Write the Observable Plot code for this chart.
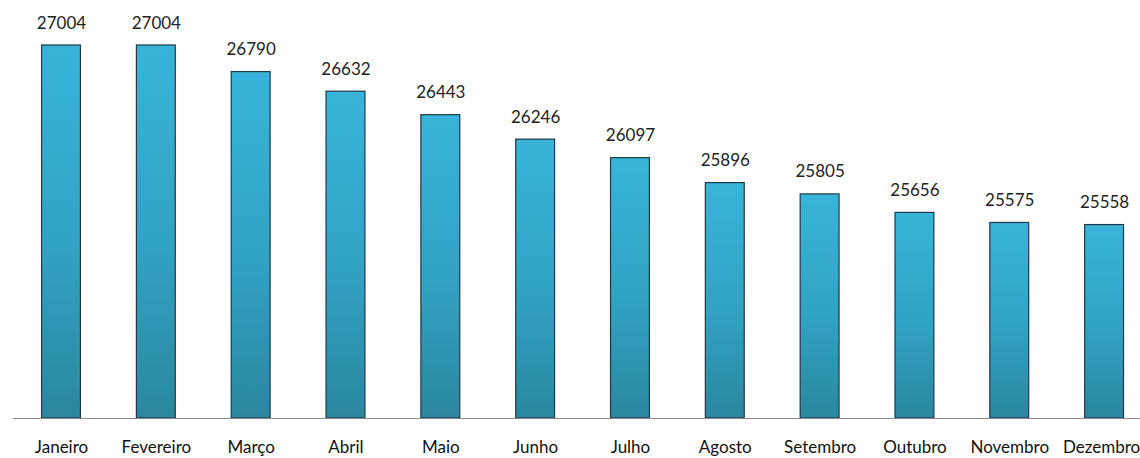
<!DOCTYPE html>
<html>
<head>
<meta charset="utf-8">
<script src="https://cdn.jsdelivr.net/npm/d3@7"></script>
<script src="https://cdn.jsdelivr.net/npm/@observablehq/plot@0.6"></script>
<style>
  html, body { margin: 0; padding: 0; background: #fff; overflow: hidden; }
  #chart svg { display: block; }
</style>
</head>
<body>
<div id="chart"></div>
<script>
const months = ["Janeiro","Fevereiro","Março","Abril","Maio","Junho","Julho","Agosto","Setembro","Outubro","Novembro","Dezembro"];
const values = [27004, 27004, 26790, 26632, 26443, 26246, 26097, 25896, 25805, 25656, 25575, 25558];

const data = months.map((m, i) => ({month: m, value: values[i]}));

const chart = Plot.plot({
  width: 1140,
  height: 458,
  marginLeft: 13,
  marginRight: 0,
  marginTop: 45,
  marginBottom: 40,
  style: {fontFamily: "Lato, 'Open Sans', sans-serif", background: "#fff", overflow: "visible"},
  x: {domain: months, range: [13.6, 1151.5], paddingInner: 0.59, paddingOuter: 0.295, round: false, label: null},
  y: {domain: [24000, 27004], range: [418, 45], axis: null},
  marks: [
    () => {
      const ns = "http://www.w3.org/2000/svg";
      const defs = document.createElementNS(ns, "defs");
      defs.innerHTML = `<linearGradient id="barGrad" x1="0" y1="0" x2="0" y2="1">
        <stop offset="0%" stop-color="#38b4da"/>
        <stop offset="55%" stop-color="#31a2c3"/>
        <stop offset="100%" stop-color="#2a879f"/>
      </linearGradient>`;
      return defs;
    },
    Plot.barY(data, {x: "month", y1: 24000, y2: "value", fill: "url(#barGrad)", stroke: "#1f3a44", strokeWidth: 1.2}),
    Plot.ruleY([24000], {stroke: "#8a8a8a", strokeWidth: 1.2}),
    Plot.text(data, {x: "month", y: "value", text: d => String(d.value), dy: -17, lineAnchor: "bottom", fontSize: 17, fill: "#222"}),
    Plot.axisX({ticks: months.slice(0, 11), tickSize: 0, tickPadding: 22, fontSize: 17, fill: "#111", label: null}),
    Plot.axisX({ticks: months.slice(11), tickSize: 0, tickPadding: 22, fontSize: 17, fill: "#111", label: null, dx: -3})
  ]
});
document.getElementById("chart").appendChild(chart);
</script>
</body>
</html>
